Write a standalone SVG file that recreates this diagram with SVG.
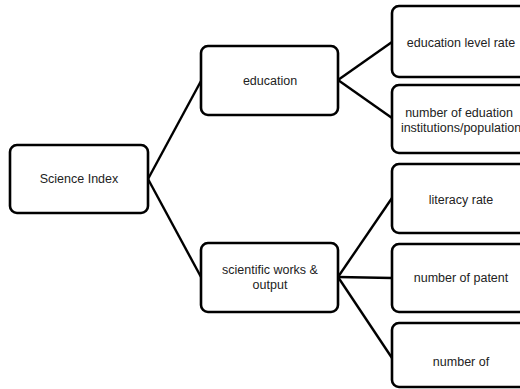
<svg xmlns="http://www.w3.org/2000/svg" width="520" height="389" viewBox="0 0 520 389">
<style>
.box{fill:#fff;stroke:#000;stroke-width:2.6}
.lbl{font-family:"Liberation Sans",Arial,sans-serif;font-size:12.5px;fill:#222;text-anchor:middle;dominant-baseline:central}
.con{stroke:#000;stroke-width:2.4;fill:none}
</style>
<rect width="520" height="389" fill="#fff"/>
<g id="connectors">
<line class="con" x1="148" y1="179" x2="201" y2="81"/>
<line class="con" x1="148" y1="179" x2="201" y2="277"/>
<line class="con" x1="338" y1="80" x2="392" y2="42"/>
<line class="con" x1="338" y1="80" x2="392" y2="118"/>
<line class="con" x1="338" y1="277" x2="392" y2="198"/>
<line class="con" x1="338" y1="277" x2="392" y2="278"/>
<line class="con" x1="338" y1="277" x2="392" y2="358"/>
</g>
<g id="science-index">
<rect class="box" x="10" y="145" width="138" height="68" rx="7"/>
<text class="lbl" x="79" y="179">Science Index</text>
</g>
<g id="education">
<rect class="box" x="201" y="46" width="137" height="69" rx="7"/>
<text class="lbl" x="270" y="81">education</text>
</g>
<g id="scientific-works">
<rect class="box" x="201" y="243" width="137" height="69" rx="7"/>
<text class="lbl" x="270" y="270">scientific works &amp;</text>
<text class="lbl" x="270" y="285">output</text>
</g>
<g id="education-level-rate">
<rect class="box" x="392" y="6" width="140" height="71" rx="7"/>
<text class="lbl" x="461" y="43">education level rate</text>
</g>
<g id="number-of-eduation">
<rect class="box" x="392" y="85" width="140" height="68" rx="7"/>
<text class="lbl" x="459" y="113">number of eduation</text>
<text class="lbl" x="461" y="128">institutions/population</text>
</g>
<g id="literacy-rate">
<rect class="box" x="392" y="164" width="140" height="69" rx="7"/>
<text class="lbl" x="461" y="200">literacy rate</text>
</g>
<g id="number-of-patent">
<rect class="box" x="392" y="244" width="140" height="68" rx="7"/>
<text class="lbl" x="461" y="278">number of patent</text>
</g>
<g id="number-of">
<rect class="box" x="392" y="323" width="140" height="64" rx="7"/>
<text class="lbl" x="461" y="362">number of</text>
</g>
</svg>
